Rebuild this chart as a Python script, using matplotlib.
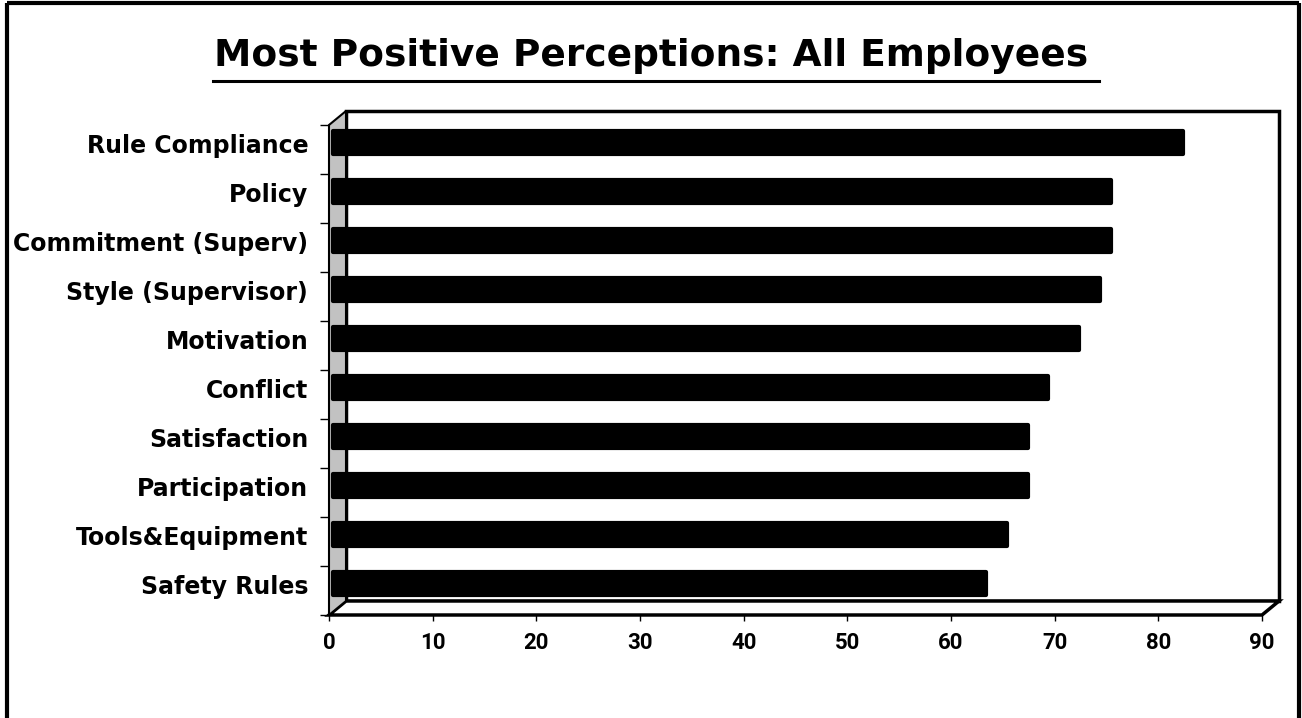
import matplotlib
matplotlib.use('Agg')
import matplotlib.pyplot as plt
from matplotlib.patches import Polygon, Rectangle
from matplotlib.lines import Line2D
import matplotlib.transforms as mtransforms

# ---- data ----
categories = ["Rule Compliance", "Policy", "Commitment (Superv)", "Style (Supervisor)",
              "Motivation", "Conflict", "Satisfaction", "Participation",
              "Tools&Equipment", "Safety Rules"]
values = [82, 75, 75, 74, 72, 69, 67, 67, 65, 63]
xticks = [0, 10, 20, 30, 40, 50, 60, 70, 80, 90]
title = "Most Positive Perceptions: All Employees"

# ---- layout (pixels) ----
W, H = 1302, 718
fig = plt.figure(figsize=(W / 100, H / 100), dpi=100)
fig.patch.set_facecolor('white')

X0, XMAXPX = 329, 1262
xmax = xticks[-1]
ppu = (XMAXPX - X0) / xmax
front_top, front_bot = 125, 615
n = len(categories)
band = (front_bot - front_top) / n
depth_x, depth_y = 17, 14
ax_right_px = XMAXPX + depth_x + 4
ax_top_px = front_top - depth_y

ax = fig.add_axes([X0 / W, 1 - front_bot / H, (ax_right_px - X0) / W,
                   (front_bot - ax_top_px) / H])
ax.set_xlim(0, (ax_right_px - X0) / ppu)
ax.set_ylim(n, -depth_y / band)
ax.patch.set_alpha(0)
for s in ax.spines.values():
    s.set_visible(False)

dxu = depth_x / ppu
dyu = depth_y / band

# back wall
ax.add_patch(Rectangle((dxu, -dyu), xmax, n, facecolor='white', edgecolor='black',
                       lw=2.5, zorder=1, clip_on=False))
# floor
ax.add_patch(Polygon([(0, n), (xmax, n), (xmax + dxu, n - dyu), (dxu, n - dyu)],
                     closed=True, facecolor='white', edgecolor='black', lw=2.5,
                     zorder=2, clip_on=False))
# left wall
ax.add_patch(Polygon([(0, 0), (dxu, -dyu), (dxu, n - dyu), (0, n)], closed=True,
                     facecolor='#c2c2c2', edgecolor='black', lw=1.5, zorder=3,
                     clip_on=False))

# bars
ypos = [i + 0.5 for i in range(n)]
bars = ax.barh(ypos, values, height=0.47, color='black', edgecolor='black',
               lw=3, zorder=5)
offset = mtransforms.ScaledTranslation(4 / 100, 7 / 100, fig.dpi_scale_trans)
for b in bars:
    b.set_transform(ax.transData + offset)
    b.set_joinstyle('round')
    b.set_clip_on(False)

# y ticks: labels (major) and boundary marks (minor)
ax.set_yticks([y - 0.12 for y in ypos])
ax.set_yticklabels(categories, fontsize=17, fontweight='bold', family='DejaVu Sans')
ax.tick_params(axis='y', which='major', length=0, pad=15)
ax.set_yticks(list(range(n + 1)), minor=True)
ax.tick_params(axis='y', which='minor', length=6.5, width=1, direction='out')

# x ticks
ax.set_xticks(xticks)
ax.set_xticklabels([str(t) for t in xticks], fontsize=16, fontweight='bold',
                   family='Roboto')
ax.tick_params(axis='x', length=4, width=1, direction='out', pad=8)

# title with underline
fig.text(651 / W, 1 - 66 / H, title, ha='center', va='baseline', fontsize=27,
         fontweight='bold', family='DejaVu Sans')
fig.add_artist(Line2D([213 / W, 1099 / W], [1 - 81 / H, 1 - 81 / H], color='black',
                      lw=2.2, transform=fig.transFigure))

# outer frame (left, top, right)
fr = dict(color='black', lw=3, transform=fig.transFigure, solid_capstyle='butt')
fig.add_artist(Line2D([6.5 / W, 6.5 / W], [0, 1 - 3 / H], **fr))
fig.add_artist(Line2D([6.5 / W, 1299 / W], [1 - 3 / H, 1 - 3 / H], **fr))
fig.add_artist(Line2D([1299 / W, 1299 / W], [0, 1 - 3 / H], **fr))

fig.savefig('out.png', dpi=100)
